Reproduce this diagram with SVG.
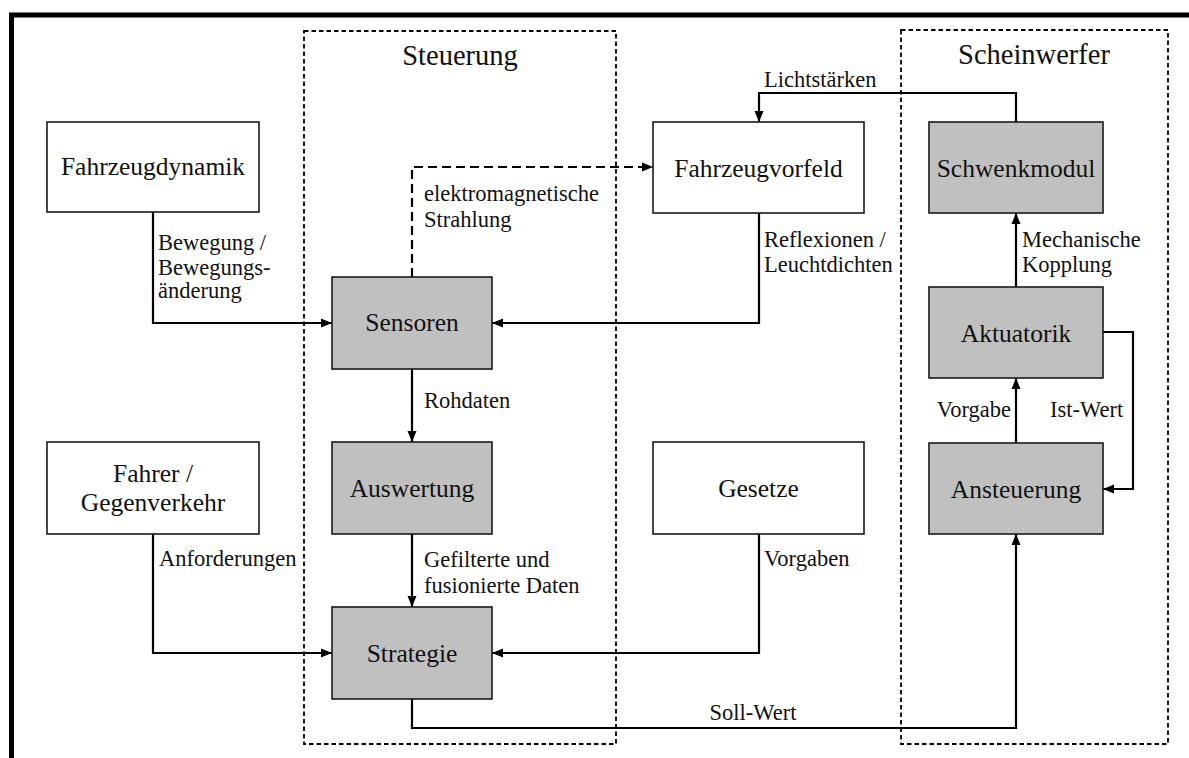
<svg xmlns="http://www.w3.org/2000/svg" width="1189" height="758" viewBox="0 0 1189 758">
<defs>
<marker id="ah" markerUnits="userSpaceOnUse" markerWidth="12" markerHeight="10" refX="11" refY="5" orient="auto">
<path d="M0,0.5 L11,5 L0,9.5 z" fill="#000"/>
</marker>
<style>
.node{stroke:#1a1a1a;stroke-width:1.6}
.white{fill:#fff}
.grey{fill:#c0c0c0}
text{font-family:'Liberation Serif','Times New Roman','DejaVu Serif',serif;fill:#111}
.nt{font-size:25.5px;text-anchor:middle}
.et{font-size:22.5px}
.tt{font-size:28.5px;text-anchor:middle}
.con{fill:none;stroke:#000;stroke-width:2.2}
.dash{stroke-dasharray:9 5}
.cont{fill:none;stroke:#000;stroke-width:1.8;stroke-dasharray:4.5 3}
</style>
</defs>
<rect x="0" y="0" width="1189" height="758" fill="#fff"/>
<g id="frame">
<line x1="9" y1="15" x2="1189" y2="15" stroke="#000" stroke-width="5"/>
<line x1="11.5" y1="13" x2="11.5" y2="758" stroke="#000" stroke-width="5"/>
</g>
<g id="steuerung">
<rect class="cont" x="304" y="31" width="312" height="713"/>
<text class="tt" x="460" y="65" font-family="Liberation Serif, serif">Steuerung</text>
</g>
<g id="scheinwerfer">
<rect class="cont" x="901" y="30" width="267" height="714"/>
<text class="tt" x="1034" y="64" font-family="Liberation Serif, serif">Scheinwerfer</text>
</g>
<g id="connectors" font-family="Liberation Serif, serif">
<path class="con" d="M153,212 V323 H332" marker-end="url(#ah)"/>
<path class="con" d="M759,213 V323 H492" marker-end="url(#ah)"/>
<path class="con dash" d="M412,277 V167 H653" marker-end="url(#ah)"/>
<path class="con" d="M412,369 V442" marker-end="url(#ah)"/>
<path class="con" d="M412,534 V607" marker-end="url(#ah)"/>
<path class="con" d="M153,534 V653 H332" marker-end="url(#ah)"/>
<path class="con" d="M759,534 V653 H492" marker-end="url(#ah)"/>
<path class="con" d="M412,699 V728 H1016 V534" marker-end="url(#ah)"/>
<path class="con" d="M1016,443 V378" marker-end="url(#ah)"/>
<path class="con" d="M1103,332 H1133 V489 H1103" marker-end="url(#ah)"/>
<path class="con" d="M1016,287 V213" marker-end="url(#ah)"/>
<path class="con" d="M1016,122 V93 H759 V122" marker-end="url(#ah)"/>
<text class="et" x="764" y="87">Lichtstärken</text>
<text class="et" x="424" y="201">elektromagnetische</text>
<text class="et" x="424" y="227">Strahlung</text>
<text class="et" x="158" y="250">Bewegung /</text>
<text class="et" x="158" y="275">Bewegungs-</text>
<text class="et" x="158" y="298">änderung</text>
<text class="et" x="764" y="247">Reflexionen /</text>
<text class="et" x="764" y="272">Leuchtdichten</text>
<text class="et" x="1022" y="247">Mechanische</text>
<text class="et" x="1022" y="272">Kopplung</text>
<text class="et" x="424" y="408">Rohdaten</text>
<text class="et" x="1011" y="417" text-anchor="end">Vorgabe</text>
<text class="et" x="1050" y="417">Ist-Wert</text>
<text class="et" x="159" y="566">Anforderungen</text>
<text class="et" x="424" y="567">Gefilterte und</text>
<text class="et" x="424" y="593">fusionierte Daten</text>
<text class="et" x="764" y="566">Vorgaben</text>
<text class="et" x="753" y="720" text-anchor="middle">Soll-Wert</text>
</g>
<g id="fahrzeugdynamik">
<rect class="node white" x="47" y="122" width="212" height="90"/>
<text class="nt" x="153" y="175">Fahrzeugdynamik</text>
</g>
<g id="fahrer">
<rect class="node white" x="47" y="442" width="212" height="92"/>
<text class="nt" x="153" y="482">Fahrer /</text>
<text class="nt" x="153" y="511">Gegenverkehr</text>
</g>
<g id="sensoren">
<rect class="node grey" x="332" y="277" width="160" height="92"/>
<text class="nt" x="412" y="331">Sensoren</text>
</g>
<g id="auswertung">
<rect class="node grey" x="332" y="442" width="160" height="92"/>
<text class="nt" x="412" y="497">Auswertung</text>
</g>
<g id="strategie">
<rect class="node grey" x="332" y="607" width="160" height="92"/>
<text class="nt" x="412" y="662">Strategie</text>
</g>
<g id="fahrzeugvorfeld">
<rect class="node white" x="653" y="122" width="211" height="91"/>
<text class="nt" x="758.5" y="177">Fahrzeugvorfeld</text>
</g>
<g id="gesetze">
<rect class="node white" x="653" y="442" width="211" height="92"/>
<text class="nt" x="758.5" y="497">Gesetze</text>
</g>
<g id="schwenkmodul">
<rect class="node grey" x="929" y="122" width="174" height="91"/>
<text class="nt" x="1016" y="177">Schwenkmodul</text>
</g>
<g id="aktuatorik">
<rect class="node grey" x="929" y="287" width="174" height="91"/>
<text class="nt" x="1016" y="342">Aktuatorik</text>
</g>
<g id="ansteuerung">
<rect class="node grey" x="929" y="443" width="174" height="91"/>
<text class="nt" x="1016" y="498">Ansteuerung</text>
</g>
</svg>
